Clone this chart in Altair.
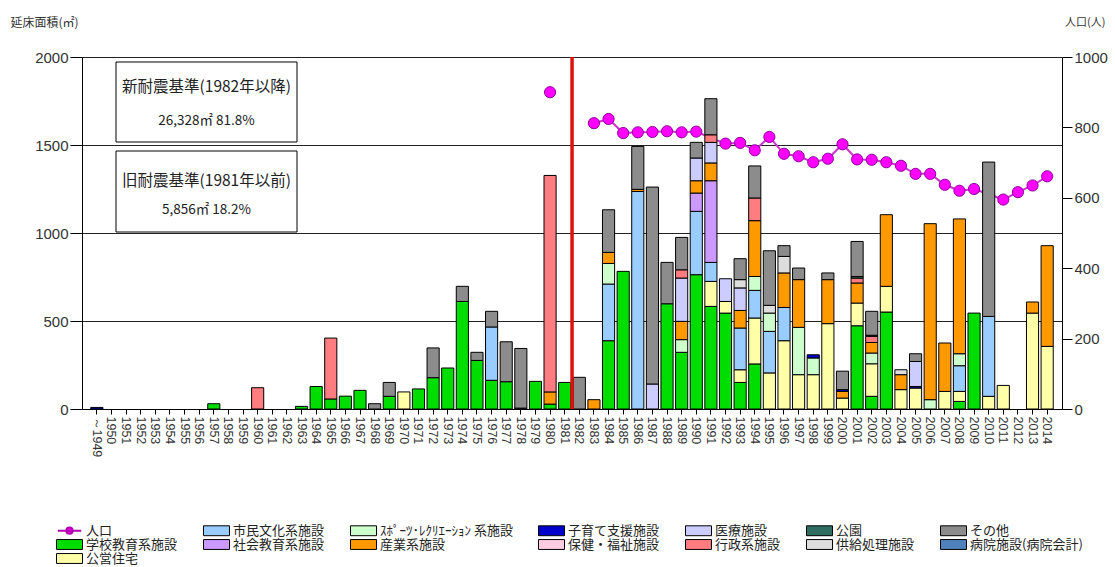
import altair as alt
import pandas as pd

# ---- categories ---------------------------------------------------------
years = ["～1949"] + [str(y) for y in range(1950, 2015)]

SPORTS = "ｽﾎﾟｰﾂ･ﾚｸﾘｴｰｼｮﾝ 系施設"

# stacking order, bottom to top
facility_order = [
    "学校教育系施設", "公営住宅", "市民文化系施設", "社会教育系施設",
    SPORTS, "産業系施設", "子育て支援施設", "保健・福祉施設",
    "医療施設", "行政系施設", "公園", "供給処理施設", "その他", "病院施設(病院会計)",
]

# legend reading order (7 columns, filled row by row)
legend_order = [
    "人口", "市民文化系施設", SPORTS, "子育て支援施設", "医療施設", "公園", "その他",
    "学校教育系施設", "社会教育系施設", "産業系施設", "保健・福祉施設", "行政系施設", "供給処理施設",
    "病院施設(病院会計)", "公営住宅",
]

colors = {
    "人口": "#FF00FF",
    "学校教育系施設": "#00DD00",
    "公営住宅": "#FFFFA8",
    "市民文化系施設": "#99CCFF",
    "社会教育系施設": "#CC99FF",
    SPORTS: "#CCFFCC",
    "産業系施設": "#FF9900",
    "子育て支援施設": "#0000CC",
    "保健・福祉施設": "#FFCCE0",
    "医療施設": "#CCCCFF",
    "行政系施設": "#FF7C80",
    "公園": "#2F6F62",
    "供給処理施設": "#DDDDDD",
    "その他": "#8C8C8C",
    "病院施設(病院会計)": "#4F81BD",
}

# ---- floor area (m2) by construction year ---------------------------------
school = {"1957": 30, "1963": 15, "1964": 128, "1965": 57, "1966": 73, "1967": 106,
          "1969": 72, "1971": 114, "1972": 178, "1973": 233, "1974": 611, "1975": 276,
          "1976": 163, "1977": 155, "1979": 157, "1980": 28, "1981": 151, "1984": 388,
          "1985": 782, "1988": 598, "1989": 322, "1990": 763, "1991": 583, "1992": 545,
          "1993": 151, "1994": 256, "2001": 473, "2002": 72, "2003": 551, "2008": 43,
          "2009": 545}
housing = {"1970": 97, "1991": 142, "1992": 66, "1993": 72, "1994": 261, "1995": 205,
           "1996": 388, "1997": 195, "1998": 195, "1999": 485, "2000": 62, "2001": 129,
           "2002": 185, "2003": 146, "2004": 110, "2005": 119, "2007": 100, "2008": 57,
           "2010": 72, "2011": 134, "2013": 545, "2014": 356}
culture = {"1976": 303, "1984": 322, "1986": 1236, "1990": 360, "1991": 108, "1993": 237,
           "1994": 157, "1995": 236, "1996": 189, "2008": 146, "2010": 454}
social_edu = {"1990": 104, "1991": 464}
sports = {"1984": 117, "1989": 72, "1994": 79, "1995": 104, "1997": 269, "1998": 95,
          "2002": 61, "2006": 53, "2008": 68}
industry = {"1980": 69, "1983": 53, "1984": 63, "1986": 12, "1989": 104, "1990": 70,
            "1991": 101, "1993": 100, "1994": 317, "1996": 196, "1997": 271, "1999": 250,
            "2000": 38, "2001": 114, "2002": 60, "2003": 407, "2004": 85, "2006": 1000,
            "2007": 275, "2008": 766, "2013": 63, "2014": 572}
childcare = {"～1949": 9, "1978": 5, "1998": 18, "2000": 10, "2005": 9}
welfare = {}
medical = {"1987": 142, "1989": 246, "1990": 129, "1991": 117, "1992": 129, "1993": 128,
           "2005": 142}
admin = {"1960": 121, "1965": 346, "1980": 1230, "1989": 47, "1991": 43, "1994": 129,
         "2001": 28, "2002": 35}
park = {"2001": 9, "2002": 6}
supply = {"1993": 47, "1995": 44, "1996": 94, "2004": 28}
other = {"1968": 30, "1969": 79, "1972": 169, "1974": 86, "1975": 46, "1976": 89,
         "1977": 227, "1978": 339, "1982": 180, "1984": 242, "1986": 244, "1987": 1119,
         "1988": 235, "1989": 184, "1990": 89, "1991": 205, "1993": 119, "1994": 182,
         "1995": 310, "1996": 61, "1997": 66, "1999": 38, "2000": 105, "2001": 199,
         "2002": 136, "2005": 44, "2010": 877}
hospital = {}

series = {
    "学校教育系施設": school, "公営住宅": housing, "市民文化系施設": culture,
    "社会教育系施設": social_edu, SPORTS: sports, "産業系施設": industry,
    "子育て支援施設": childcare, "保健・福祉施設": welfare, "医療施設": medical,
    "行政系施設": admin, "公園": park, "供給処理施設": supply, "その他": other,
    "病院施設(病院会計)": hospital,
}

# ---- population ---------------------------------------------------------
pop_years = ["1980", "1983", "1984", "1985", "1986", "1987", "1988", "1989", "1990",
             "1991", "1992", "1993", "1994", "1995", "1996", "1997", "1998", "1999",
             "2000", "2001", "2002", "2003", "2004", "2005", "2006", "2007", "2008",
             "2009", "2010", "2011", "2012", "2013", "2014"]
pop_values = [900, 812, 824, 784, 786, 787, 789, 786, 788,
              770, 754, 756, 735, 773, 725, 718, 701, 711,
              752, 709, 708, 701, 691, 668, 668, 637, 620,
              625, 610, 595, 616, 635, 661]
pop_segment = [0] + [1] * (len(pop_years) - 1)

# ---- tables -------------------------------------------------------------
rows = []
for k, name in enumerate(facility_order):
    for yr, v in series[name].items():
        rows.append({"year": yr, "facility": name, "area": v, "stack": k})
bars_df = pd.DataFrame(rows)
pop_df = pd.DataFrame({"year": pop_years, "pop": pop_values, "seg": pop_segment})

W, H = 980, 352
JP = "Noto Sans CJK JP"
NUM = "Liberation Sans"

x_axis = alt.Axis(title=None, labelAngle=90, labelFontSize=12.5, labelFont=NUM,
                  labelColor="#333333", tickSize=5, tickColor="black",
                  domainColor="black", labelPadding=2, labelOverlap=False, grid=False)
x_scale = alt.Scale(domain=years, paddingInner=0.17, paddingOuter=0.6)


def xenc(**kw):
    return alt.X("year:N", sort=years, scale=x_scale, axis=x_axis, **kw)


legend = alt.Legend(
    title=None, orient="none", legendX=-19, legendY=467,
    columns=7, direction="horizontal",
    labelFont=JP, labelFontSize=13, labelColor="#222222",
    labelOffset=10, columnPadding=23, rowPadding=-1,
    symbolSize=676,
    symbolType={"expr": "datum.value === '人口' ? "
                "'M-0.9,0H0.9M-0.24,0A0.24,0.24 0 1,1 0.24,0A0.24,0.24 0 1,1 -0.24,0Z' : "
                "'M-1,-0.38H1V0.38H-1Z'"},
    symbolStrokeColor={"expr": "datum.value === '人口' ? '#B000B0' : '#000000'"},
    symbolStrokeWidth={"expr": "datum.value === '人口' ? 2 : 1"},
)

bars = alt.Chart(bars_df).mark_bar(stroke="black", strokeWidth=1).encode(
    x=xenc(),
    y=alt.Y("sum(area):Q", stack="zero",
            scale=alt.Scale(domain=[0, 2000], nice=False),
            axis=alt.Axis(orient="left", values=[0, 500, 1000, 1500, 2000], format="d",
                          title="延床面積(㎡)", titleAngle=0, titleAlign="left",
                          titleBaseline="middle", titleX=-72, titleY=-35,
                          titleFont=JP, titleFontSize=12, titleFontWeight="normal",
                          titleColor="#333333",
                          labelFont=NUM, labelFontSize=15, labelColor="#333333",
                          tickSize=12, tickColor="black", domainColor="black",
                          labelPadding=2, grid=True, gridColor="#222222",
                          gridWidth=1.2)),
    fill=alt.Fill("facility:N",
                  scale=alt.Scale(domain=legend_order,
                                  range=[colors[n] for n in legend_order]),
                  legend=legend),
    order=alt.Order("stack:Q", sort="ascending"),
)

pop_y = alt.Y("pop:Q", scale=alt.Scale(domain=[0, 1000], nice=False),
              axis=alt.Axis(orient="right", values=[0, 200, 400, 600, 800, 1000], format="d",
                            title="人口(人)", titleAngle=0, titleAlign="right",
                            titleBaseline="middle", titleX=43, titleY=-35,
                            titleFont=JP, titleFontSize=11, titleFontWeight="normal",
                            titleColor="#333333",
                            labelFont=NUM, labelFontSize=15, labelColor="#333333",
                            tickSize=10, tickColor="black", domainColor="black",
                            labelPadding=2, grid=False))

pop_line = alt.Chart(pop_df).mark_line(color="#CC33CC", strokeWidth=2).encode(
    x=xenc(), y=pop_y, detail="seg:N")
pop_pts = alt.Chart(pop_df).mark_point(filled=True, size=125, fill="#FF00FF",
                                       stroke="#9000A0", strokeWidth=1,
                                       opacity=1).encode(x=xenc(), y=pop_y)
pop_layer = alt.layer(pop_line, pop_pts)

# boundary between the old (<=1981) and new (>=1982) seismic codes
divider = alt.Chart(pd.DataFrame({"year": ["1981"]})).mark_rule(
    color="#DD1111", strokeWidth=3.5, xOffset=1.3).encode(x=xenc(bandPosition=1))

# annotation boxes
box_df = pd.DataFrame({"x": [34, 34], "x2": [215, 215], "y": [5, 94], "y2": [85, 175]})
boxes = alt.Chart(box_df).mark_rect(fill="white", stroke="black", strokeWidth=1).encode(
    x=alt.X("x:Q", scale=None), x2="x2:Q", y=alt.Y("y:Q", scale=None), y2="y2:Q")

note_df = pd.DataFrame({
    "text": ["新耐震基準(1982年以降)", "26,328㎡ 81.8%", "旧耐震基準(1981年以前)", "5,856㎡ 18.2%"],
    "px": [124.5, 124.5, 124.5, 124.5],
    "py": [30, 64, 124, 153],
    "size": [15.5, 13.5, 15.5, 13.5],
})
notes = alt.Chart(note_df).mark_text(font=JP, color="#222222",
                                     align="center", baseline="middle").encode(
    x=alt.X("px:Q", scale=None), y=alt.Y("py:Q", scale=None), text="text:N",
    size=alt.Size("size:Q", scale=None, legend=None))

chart = alt.layer(pop_layer, bars, divider, boxes, notes).resolve_scale(
    y="independent"
).properties(
    width=W, height=H,
    autosize=alt.AutoSizeParams(type="none"),
    padding={"left": 82, "top": 57, "right": 1115 - 82 - W, "bottom": 567 - 57 - H},
).configure_view(stroke=None).configure(background="white")

chart.save("out.html", embed_options={"renderer": "svg", "actions": False})
